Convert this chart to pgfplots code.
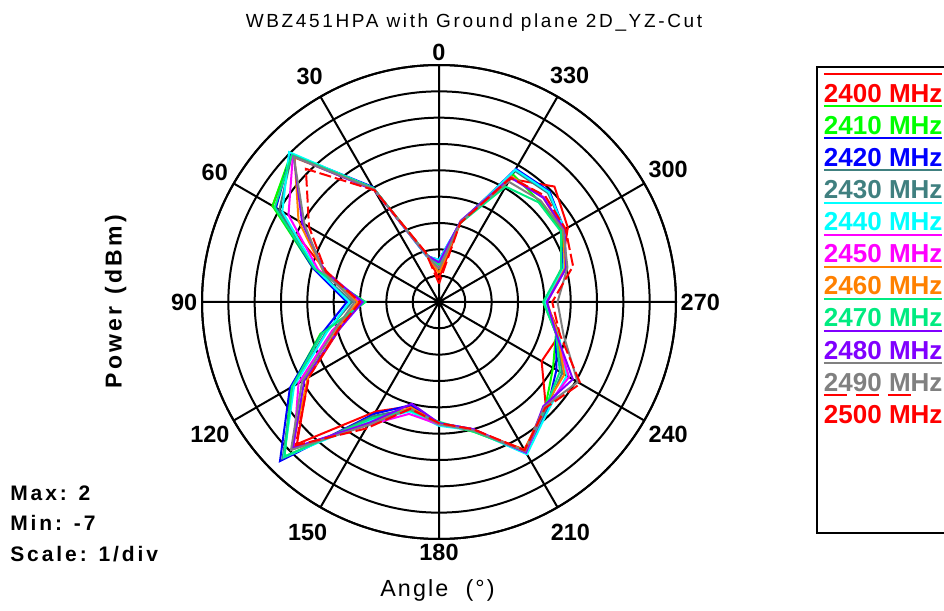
\documentclass[border=0pt]{standalone}
\usepackage{pgfplots}
\pgfplotsset{compat=1.18}
\usepgfplotslibrary{polar}
\usepackage{pgfplotstable}
\usepackage{fontspec}
\setmainfont{Liberation Sans}
\newfontfamily\trk[LetterSpace=14]{Liberation Sans}
\newfontfamily\trkb[LetterSpace=9]{Liberation Sans}

\definecolor{c2400}{RGB}{255,0,0}
\definecolor{c2410}{RGB}{0,255,0}
\definecolor{c2420}{RGB}{0,0,255}
\definecolor{c2430}{RGB}{64,128,128}
\definecolor{c2440}{RGB}{0,255,255}
\definecolor{c2450}{RGB}{255,0,255}
\definecolor{c2460}{RGB}{255,128,0}
\definecolor{c2470}{RGB}{0,235,128}
\definecolor{c2480}{RGB}{128,0,255}
\definecolor{c2490}{RGB}{128,128,128}
\definecolor{c2500}{RGB}{255,0,0}

% angle (deg, counter-clockwise from top), power in dBm
\pgfplotstableread{
a   f2400 f2410 f2420 f2430 f2440 f2450 f2460 f2470 f2480 f2490 f2500
0   -6.10 -5.60 -5.40 -5.50 -5.40 -5.70 -5.90 -5.60 -5.50 -5.75 -6.30
15  -5.10 -5.15 -5.20 -5.15 -5.20 -5.15 -5.10 -5.10 -5.15 -5.15 -5.05
30  -2.05 -2.00 -1.95 -2.05 -2.00 -2.10 -2.05 -2.00 -2.10 -2.05 -2.10
45   0.90  0.95  0.95  0.90  1.05  0.85  0.75  0.90  0.80  0.80  0.15
60   0.30  0.30  0.15  0.00 -0.13 -0.40 -0.84  0.20 -1.00 -1.10 -1.30
75  -2.60 -2.05 -2.05 -2.15 -2.15 -2.25 -2.45 -2.10 -2.50 -2.45 -2.55
90  -4.00 -4.20 -3.50 -3.70 -3.60 -4.00 -3.90 -4.20 -4.10 -3.80 -4.00
105 -3.10 -2.34 -2.40 -2.55 -2.60 -2.80 -3.00 -2.40 -3.10 -2.90 -3.05
120 -1.27 -0.50 -0.46 -0.60 -0.65 -0.84 -1.25 -0.55 -1.10 -1.00 -1.30
135  0.63  1.30  1.54  1.40  1.33  0.80  0.90  1.30  0.85  0.95  0.70
150 -2.20 -1.90 -2.10 -2.00 -1.80 -1.60 -1.70 -1.90 -1.70 -1.60 -1.45
165 -2.90 -2.80 -2.95 -2.80 -2.70 -2.60 -2.85 -2.75 -3.00 -2.80 -2.80
180 -2.40 -2.40 -2.40 -2.40 -2.30 -2.35 -2.40 -2.45 -2.40 -2.35 -2.40
195 -1.95 -1.90 -2.00 -2.00 -1.95 -2.00 -1.95 -1.90 -2.00 -1.95 -2.00
210 -0.53 -0.45 -0.40 -0.40 -0.32 -0.40 -0.50 -0.45 -0.40 -0.45 -0.50
225 -1.25 -1.30 -1.20 -1.25 -1.15 -1.30 -1.35 -1.30 -1.40 -1.35 -1.30
240 -2.50 -2.00 -1.85 -1.60 -1.40 -1.30 -1.50 -1.70 -1.13 -0.92 -0.80
255 -2.25 -2.40 -2.40 -2.35 -2.30 -2.40 -2.35 -2.40 -2.40 -2.10 -2.25
270 -2.95 -3.04 -3.00 -2.95 -3.00 -2.90 -2.90 -3.04 -2.90 -2.50 -2.70
285 -2.20 -2.10 -2.15 -2.10 -2.10 -2.00 -2.05 -2.20 -2.00 -1.95 -1.73
300 -1.35 -1.61 -1.50 -1.50 -1.50 -1.55 -1.55 -1.65 -1.50 -1.55 -1.45
315 -0.80 -1.60 -1.06 -1.15 -1.10 -1.37 -1.40 -1.65 -1.40 -1.55 -1.30
330 -1.60 -1.40 -1.16 -1.25 -1.20 -1.50 -1.50 -1.94 -1.55 -1.72 -1.55
345 -3.90 -3.85 -3.90 -3.85 -3.90 -3.85 -3.90 -3.90 -3.80 -3.85 -3.90
360 -6.10 -5.60 -5.40 -5.50 -5.40 -5.70 -5.90 -5.60 -5.50 -5.75 -6.30
}\data

\newcommand{\solidline}{\rlap{\vrule height 22pt depth -20.5pt width 88.5pt}}
\newcommand{\dashline}{\rlap{\hbox to 88.5pt{\leaders\hbox to 24pt{\vrule height 22pt depth -20.5pt width 17pt\hfil}\hfill}}}

\begin{document}
\begin{tikzpicture}
\begin{polaraxis}[
  at={(329.25pt,231pt)}, anchor=center,
  scale only axis, width=355.5pt, height=355.5pt,
  xmin=0, xmax=360, ymin=0, ymax=9,
  xtick={0,30,...,330},
  xticklabels={270,300,{330\rule[-1.5pt]{0pt}{0pt}},0,{30\rule[-3pt]{0pt}{0pt}\hspace{7.5pt}},{60\hspace{6pt}},{90\hspace{7.5pt}},{120\hspace{2pt}},{150\rule{0pt}{16.4pt}\hspace{1.5pt}},180,{210\rule{0pt}{16.4pt}},240},
  ytick={0,1,...,9}, yticklabels={},
  major tick length=0pt,
  xmajorgrids, ymajorgrids,
  grid style={black, line width=1.5pt},
  axis line style={black, line width=1.5pt},
  xticklabel style={font=\bfseries\fontsize{17.6}{20}\selectfont},
  x filter/.expression={mod(x+90,360)},
  y filter/.expression={y+7},
  no markers,
  every axis plot/.append style={line width=1.5pt},
  legend image code/.code={},
  legend cell align=left,
  legend style={at={(axis description cs:1.3122,0.9838)}, anchor=north west,
    draw=none, fill=none, inner sep=0pt, outer sep=0pt,
    row sep=0pt, column sep=0pt,
    nodes={inner sep=0pt, outer sep=0pt, text height=22.5pt, text depth=1.53pt},
    font=\bfseries\fontsize{19.5}{22}\selectfont},
]
\addplot[c2400] table[x=a, y=f2400] {\data};
\addlegendentry{\textcolor{c2400}{\solidline 2400 MHz}}
\addplot[c2410] table[x=a, y=f2410] {\data};
\addlegendentry{\textcolor{c2410}{\solidline 2410 MHz}}
\addplot[c2420] table[x=a, y=f2420] {\data};
\addlegendentry{\textcolor{c2420}{\solidline 2420 MHz}}
\addplot[c2430] table[x=a, y=f2430] {\data};
\addlegendentry{\textcolor{c2430}{\solidline 2430 MHz}}
\addplot[c2440] table[x=a, y=f2440] {\data};
\addlegendentry{\textcolor{c2440}{\solidline 2440 MHz}}
\addplot[c2450] table[x=a, y=f2450] {\data};
\addlegendentry{\textcolor{c2450}{\solidline 2450 MHz}}
\addplot[c2460] table[x=a, y=f2460] {\data};
\addlegendentry{\textcolor{c2460}{\solidline 2460 MHz}}
\addplot[c2470] table[x=a, y=f2470] {\data};
\addlegendentry{\textcolor{c2470}{\solidline 2470 MHz}}
\addplot[c2480] table[x=a, y=f2480] {\data};
\addlegendentry{\textcolor{c2480}{\solidline 2480 MHz}}
\addplot[c2490] table[x=a, y=f2490] {\data};
\addlegendentry{\textcolor{c2490}{\solidline 2490 MHz}}
\addplot[c2500, dash pattern=on 9pt off 3pt] table[x=a, y=f2500] {\data};
\addlegendentry{\textcolor{c2500}{\dashline 2500 MHz}}
\end{polaraxis}
\begin{scope}[x=0.75pt, y=0.75pt]
\path[use as bounding box] (0,0) rectangle (944,610);
\node[anchor=base, inner sep=0pt, font=\trk\fontsize{14.25}{17}\selectfont] at (474,582) {WBZ451HPA with Ground plane 2D\_YZ-Cut};
\node[rotate=90, anchor=base, inner sep=0pt, font=\trk\bfseries\fontsize{17.25}{20}\selectfont] at (121.7,308.3) {Power\ \hspace{2pt}(dBm)};
\node[anchor=base, inner sep=0pt, font=\trkb\fontsize{17.5}{20}\selectfont] at (437.5,13.3) {Angle\ \ (°)};
\node[anchor=base west, inner sep=0pt, font=\trk\bfseries\fontsize{15.75}{18}\selectfont] at (10,110) {Max: 2};
\node[anchor=base west, inner sep=0pt, font=\trk\bfseries\fontsize{15.75}{18}\selectfont] at (10,79.5) {Min: -7};
\node[anchor=base west, inner sep=0pt, font=\trk\bfseries\fontsize{15.75}{18}\selectfont] at (10,49) {Scale: 1/div};
\draw[line width=1.5pt] (817.3,543.3) rectangle (970,76.7);
\end{scope}
\end{tikzpicture}
\end{document}
